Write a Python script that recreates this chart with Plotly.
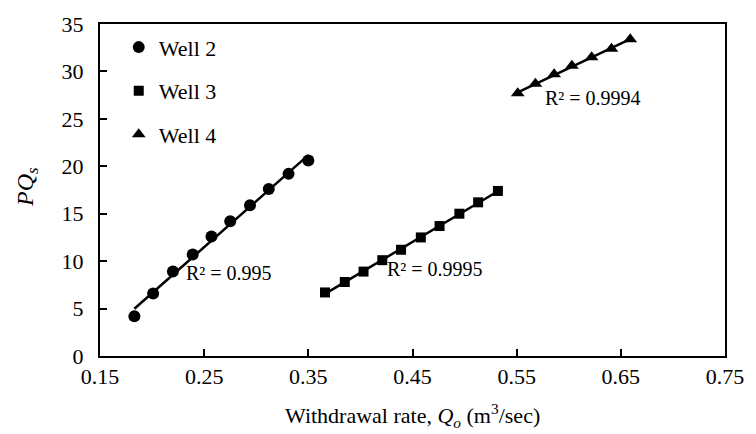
import numpy as np
import plotly.graph_objects as go

well2_x = [0.183, 0.201, 0.220, 0.239, 0.257, 0.275, 0.294, 0.312, 0.331, 0.350]
well2_y = [4.2, 6.6, 8.9, 10.7, 12.6, 14.2, 15.9, 17.6, 19.2, 20.6]
well3_x = [0.366, 0.385, 0.403, 0.421, 0.439, 0.458, 0.476, 0.495, 0.513, 0.532]
well3_y = [6.7, 7.8, 8.9, 10.1, 11.2, 12.5, 13.7, 15.0, 16.2, 17.4]
well4_x = [0.551, 0.568, 0.586, 0.603, 0.622, 0.641, 0.659]
well4_y = [27.7, 28.7, 29.7, 30.6, 31.5, 32.4, 33.4]
names = ["Well 2", "Well 3", "Well 4"]
symbols = ["circle", "square", "triangle-up"]
sizes = [12, 10, 12]
r2_labels = ["R² = 0.995", "R² = 0.9995", "R² = 0.9994"]
r2_pos = [(0.274, 8.7), (0.472, 9.2), (0.623, 27.2)]
x_ticks = [0.15, 0.25, 0.35, 0.45, 0.55, 0.65, 0.75]
y_ticks = [0, 5, 10, 15, 20, 25, 30, 35]

FONT = "Liberation Serif"
fig = go.Figure()
series = [(well2_x, well2_y), (well3_x, well3_y), (well4_x, well4_y)]
for i, (xs, ys) in enumerate(series):
    xs_a = np.array(xs); ys_a = np.array(ys)
    m, b = np.polyfit(xs_a, ys_a, 1)
    lx = np.array([xs_a.min(), xs_a.max()])
    fig.add_trace(go.Scatter(x=lx, y=m * lx + b, mode="lines",
                             line=dict(color="black", width=2.5),
                             showlegend=False, hoverinfo="skip"))
for i, (xs, ys) in enumerate(series):
    fig.add_trace(go.Scatter(x=xs, y=ys, mode="markers", name=names[i],
                             legendgroup=names[i],
                             marker=dict(symbol=symbols[i], size=sizes[i], color="black")))

for (ax, ay), t in zip(r2_pos, r2_labels):
    fig.add_annotation(x=ax, y=ay, text=t, showarrow=False,
                       font=dict(family=FONT, size=20, color="black"))

fig.add_annotation(xref="paper", yref="paper", x=0.5, y=-0.18,
                   xanchor="center", yanchor="middle", showarrow=False,
                   text="Withdrawal rate, <i>Q<sub>o</sub></i> (m<sup>3</sup>/sec)",
                   font=dict(family=FONT, size=22, color="black"))
fig.add_annotation(xref="paper", yref="paper", x=-0.118, y=0.51,
                   xanchor="center", yanchor="middle", showarrow=False,
                   textangle=-90, text="<i>PQ<sub>s</sub></i>",
                   font=dict(family=FONT, size=24, color="black"))

fig.update_layout(
    width=756, height=434,
    margin=dict(l=100, r=20, t=18, b=78),
    paper_bgcolor="white", plot_bgcolor="white",
    font=dict(family=FONT, size=22, color="black"),
    legend=dict(x=0.03, y=0.993, xanchor="left", yanchor="top",
                tracegroupgap=12, font=dict(family=FONT, size=22),
                bgcolor="rgba(0,0,0,0)"),
    xaxis=dict(range=[0.15, 0.75], tickvals=x_ticks,
               ticktext=[f"{v:.2f}" for v in x_ticks],
               showgrid=False, zeroline=False, showline=True, linecolor="black",
               linewidth=2, mirror=True, ticks="inside", ticklen=7, tickwidth=2,
               tickcolor="black", tickfont=dict(family=FONT, size=22)),
    yaxis=dict(range=[0, 35], tickvals=y_ticks,
               showgrid=False, zeroline=False, showline=True, linecolor="black",
               linewidth=2, mirror=True, ticks="inside", ticklen=7, tickwidth=2,
               tickcolor="black", ticklabelstandoff=10,
               tickfont=dict(family=FONT, size=22)),
)
fig.write_html("out.html", config={"displayModeBar": False},
               post_script="document.body.style.margin='0';document.body.style.overflow='hidden';")
